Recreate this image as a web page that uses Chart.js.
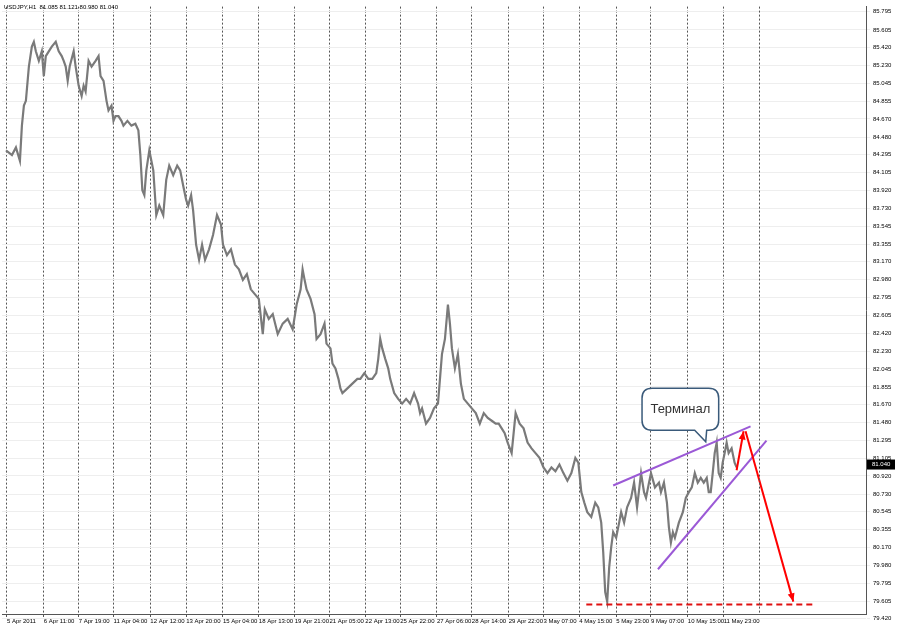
<!DOCTYPE html>
<html><head><meta charset="utf-8">
<script src="https://cdn.jsdelivr.net/npm/chart.js@4.4.0/dist/chart.umd.min.js"></script>
<style>html,body{margin:0;padding:0;background:#fff}#w{width:900px;height:630px}</style>
</head><body><div id="w"><canvas id="c"></canvas></div>
<script>
const hours=[2,8,12,16,18,20,22,25,28,30,32,35,38,40,42,45,48,52,55,58,60,62,64,66,70,72,75,78,80,82,85,88,92,95,97,100,103,105,108,110,112,115,118,120,124,128,132,135,137,139,141,143,146,150,153,156,160,163,166,170,174,177,180,183,185,188,190,193,196,199,202,206,210,214,218,220,224,228,232,236,240,244,248,252,256,260,262,266,270,275,280,285,290,294,298,300,302,304,308,312,314,318,322,324,328,330,333,336,338,340,345,350,355,358,362,366,370,374,376,378,380,383,386,388,392,396,400,404,408,412,416,418,420,424,428,432,436,440,443,446,448,450,453,456,459,462,466,470,474,478,482,486,490,494,497,500,503,506,510,512,514,518,522,526,530,534,538,542,546,550,554,558,562,566,570,574,577,580,583,586,590,594,597,600,602,604,606,608,610,612,615,618,620,623,626,630,633,636,640,643,645,648,650,654,658,660,663,666,668,670,672,674,678,682,685,688,691,694,697,700,703,706,708,710,712,714,716,718,720,722,724,726,728,731,734,736];
const closes=[84.34,84.29,84.37,84.23,84.60,84.81,84.86,85.22,85.43,85.48,85.38,85.28,85.38,85.12,85.33,85.38,85.43,85.48,85.38,85.33,85.28,85.22,85.07,85.22,85.38,85.22,85.02,84.91,85.02,84.96,85.28,85.22,85.28,85.33,85.12,85.07,84.86,84.76,84.81,84.65,84.70,84.70,84.65,84.60,84.65,84.60,84.62,84.55,84.29,83.92,83.87,84.13,84.34,84.13,83.66,83.76,83.66,84.03,84.18,84.08,84.18,84.13,83.97,83.82,83.76,83.87,83.71,83.35,83.19,83.35,83.19,83.30,83.45,83.66,83.56,83.35,83.24,83.30,83.14,83.09,82.98,83.04,82.88,82.83,82.78,82.41,82.67,82.57,82.62,82.41,82.52,82.57,82.46,82.72,82.88,83.09,82.98,82.88,82.78,82.62,82.36,82.41,82.52,82.31,82.26,82.10,82.05,81.94,81.84,81.79,81.84,81.89,81.94,81.94,82.00,81.94,81.94,82.00,82.15,82.36,82.26,82.15,82.05,81.94,81.79,81.73,81.68,81.73,81.68,81.79,81.68,81.58,81.63,81.47,81.53,81.63,81.68,82.20,82.36,82.72,82.52,82.26,82.05,82.20,81.89,81.73,81.68,81.63,81.58,81.47,81.58,81.53,81.50,81.47,81.47,81.42,81.37,81.27,81.16,81.37,81.58,81.47,81.42,81.27,81.21,81.16,81.11,81.01,80.95,81.01,80.97,81.04,80.95,80.87,80.95,81.11,81.06,80.75,80.64,80.54,80.49,80.64,80.59,80.43,80.12,79.70,79.60,79.96,80.17,80.33,80.27,80.43,80.54,80.43,80.59,80.69,80.85,80.59,80.95,80.75,80.69,80.85,80.95,80.80,80.85,80.75,80.85,80.64,80.38,80.22,80.33,80.27,80.43,80.54,80.69,80.75,80.80,80.95,80.85,80.90,80.85,80.90,80.75,80.75,80.95,81.16,81.27,80.95,80.90,81.06,81.16,81.27,81.16,81.21,81.06,81.01];
const dateTicks=[3,40,75,110,147,183,220,256,292,327,363,398,435,470,507,542,578,615,650,687,723];
const dateLabels=["5 Apr 2011","6 Apr 11:00","7 Apr 19:00","11 Apr 04:00","12 Apr 12:00","13 Apr 20:00","15 Apr 04:00","18 Apr 13:00","19 Apr 21:00","21 Apr 05:00","22 Apr 13:00","25 Apr 22:00","27 Apr 06:00","28 Apr 14:00","29 Apr 22:00","3 May 07:00","4 May 15:00","5 May 23:00","9 May 07:00","10 May 15:00","11 May 23:00"];
const extraGrid=[759];
const priceTicks=[85.795,85.605,85.420,85.230,85.045,84.855,84.670,84.480,84.295,84.105,83.920,83.730,83.545,83.355,83.170,82.980,82.795,82.605,82.420,82.230,82.045,81.855,81.670,81.480,81.295,81.105,80.920,80.730,80.545,80.355,80.170,79.980,79.795,79.605,79.420];
const upperLine=[[612,80.82],[750,81.44]];
const lowerLine=[[657,79.94],[766,81.29]];
const arrowUp=[[736,80.98],[743,81.39]];
const arrowDown=[[745,81.39],[793,79.60]];
const supportLine=[[585,79.57],[815,79.57]];
const callout={x0:641,x1:718,top:81.84,bottom:81.40,tip:[705,81.28],text:"Терминал"};
const lastPrice=81.040;
const header="USDJPY,H1  81.085 81.121 80.980 81.040";

const ann={id:'ann',afterDatasetsDraw(ch){
 const c=ch.ctx,X=ch.scales.x,Y=ch.scales.y,P=p=>[X.getPixelForValue(p[0]),Y.getPixelForValue(p[1])];
 c.save();
 const line=(a,b,col,w,dash)=>{c.strokeStyle=col;c.lineWidth=w;c.setLineDash(dash||[]);const A=P(a),B=P(b);c.beginPath();c.moveTo(A[0],A[1]);c.lineTo(B[0],B[1]);c.stroke();c.setLineDash([]);};
 line(upperLine[0],upperLine[1],'#9b59d6',2);
 line(lowerLine[0],lowerLine[1],'#9b59d6',2);
 line(supportLine[0],supportLine[1],'#e01010',2,[6,4]);
 const arrow=(a,b)=>{line(a,b,'#ff0000',2);const A=P(a),B=P(b),ang=Math.atan2(B[1]-A[1],B[0]-A[0]);c.fillStyle='#ff0000';c.beginPath();c.moveTo(B[0],B[1]);c.lineTo(B[0]-9*Math.cos(ang-0.4),B[1]-9*Math.sin(ang-0.4));c.lineTo(B[0]-9*Math.cos(ang+0.4),B[1]-9*Math.sin(ang+0.4));c.closePath();c.fill();};
 arrow(arrowUp[0],arrowUp[1]);arrow(arrowDown[0],arrowDown[1]);
 const x0=X.getPixelForValue(callout.x0),x1=X.getPixelForValue(callout.x1),y0=Y.getPixelForValue(callout.top),y1=Y.getPixelForValue(callout.bottom),T=P(callout.tip),r=10;
 c.beginPath();c.moveTo(x0+r,y0);c.lineTo(x1-r,y0);c.quadraticCurveTo(x1,y0,x1,y0+r);c.lineTo(x1,y1-r);c.quadraticCurveTo(x1,y1,x1-r,y1);
 c.lineTo(x1-12,y1);c.lineTo(T[0],T[1]);c.lineTo(x1-24,y1);
 c.lineTo(x0+r,y1);c.quadraticCurveTo(x0,y1,x0,y1-r);c.lineTo(x0,y0+r);c.quadraticCurveTo(x0,y0,x0+r,y0);c.closePath();
 c.fillStyle='#fff';c.fill();c.strokeStyle='#3a5a7a';c.lineWidth=1.5;c.stroke();
 c.fillStyle='#333';c.font='13px Arial, "Liberation Sans"';c.textAlign='center';c.textBaseline='middle';c.fillText(callout.text,(x0+x1)/2,(y0+y1)/2);
 c.textAlign='left';c.textBaseline='top';c.font='6px "Liberation Sans"';c.fillStyle='#000';c.fillText(header,4,4);
 c.strokeStyle='#555';c.lineWidth=1;c.setLineDash([2,2]);
 extraGrid.forEach(h=>{const px=Math.round(X.getPixelForValue(h))+0.5;c.beginPath();c.moveTo(px,ch.chartArea.top);c.lineTo(px,ch.chartArea.bottom);c.stroke();});
 c.setLineDash([]);
 const py=Y.getPixelForValue(lastPrice),ax=ch.chartArea.right;
 c.fillStyle='#000';c.fillRect(ax+1,py-5,28,10);c.fillStyle='#fff';c.font='6px "Liberation Sans"';c.textBaseline='middle';c.fillText(lastPrice.toFixed(3),ax+6,py);
 c.restore();
}};

new Chart(document.getElementById('c'),{
 type:'line',
 data:{datasets:[{data:hours.map((h,i)=>({x:h,y:closes[i]})),borderColor:'#7a7a7a',borderWidth:2.2,pointRadius:0,tension:0}]},
 options:{animation:false,responsive:true,maintainAspectRatio:false,
  layout:{padding:{top:0,left:2,right:2,bottom:0}},
  plugins:{legend:{display:false},tooltip:{enabled:false}},
  scales:{
   x:{type:'linear',min:-2,max:866,
    afterBuildTicks(a){a.ticks=dateTicks.map(v=>({value:v}));},
    afterFit(a){a.height=16;},
    ticks:{autoSkip:false,maxRotation:0,align:'start',font:{size:6,family:'Liberation Sans'},color:'#000',padding:1,callback:(v)=>{const i=dateTicks.indexOf(v);return i>=0?dateLabels[i]:'';}},
    grid:{color:'#555',lineWidth:1,tickLength:3},border:{dash:[2,2],color:'#555'}},
   y:{position:'right',min:79.47,max:85.85,
    afterBuildTicks(a){a.ticks=priceTicks.map(v=>({value:v}));},
    afterFit(a){a.width=32;},
    ticks:{autoSkip:false,font:{size:6,family:'Liberation Sans'},color:'#000',padding:3,callback:v=>v.toFixed(3)},
    grid:{color:'#eeeeee',lineWidth:1,tickLength:4},border:{color:'#555'}}
  }},
 plugins:[ann]
});
</script></body></html>
